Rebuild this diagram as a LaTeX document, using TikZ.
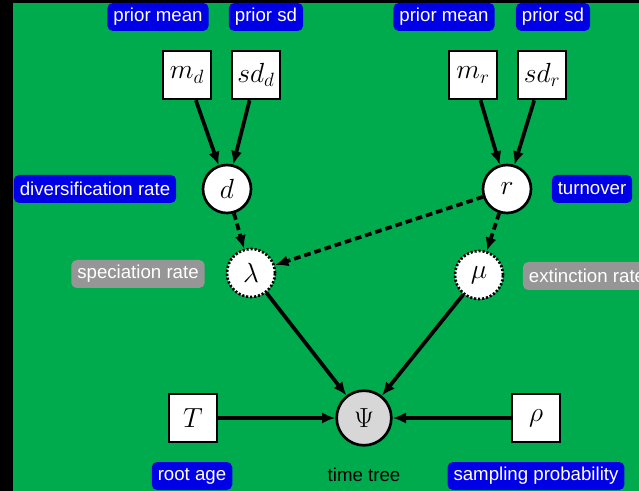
\documentclass[tikz,border=0pt]{standalone}
\usepackage[no-math]{fontspec}
\newfontfamily\labelfont{Liberation Sans}
\usetikzlibrary{arrows.meta}
\definecolor{bggreen}{RGB}{0,171,78}
\definecolor{labblue}{RGB}{0,0,230}
\definecolor{labgray}{RGB}{150,150,150}
\definecolor{psigray}{RGB}{215,215,215}

\begin{document}
\begin{tikzpicture}[x=0.75pt,y=-0.75pt,>={Latex[length=10pt,width=8.5pt]},
  const/.style={draw,line width=2pt,fill=white,minimum size=36pt,inner sep=0pt,font=\fontsize{21}{24}\selectfont},
  stoch/.style={const,circle},
  determ/.style={stoch,dash pattern=on 1.6pt off 1.4pt},
  lab/.style={rounded corners=4pt,fill=labblue,text=white,inner xsep=4.5pt,minimum height=21pt,font=\labelfont\fontsize{14}{16}\selectfont},
  glab/.style={lab,fill=labgray},
  arr/.style={->,line width=2.8pt},
  darr/.style={arr,dash pattern=on 5pt off 3pt}]
\clip (0,0) rectangle (639,491);
\fill[black] (0,0) rectangle (639,491);
\fill[bggreen] (13,3) rectangle (639,491);
% priors
\foreach \n/\x/\t in {pmd/158/prior mean,psd/266/prior sd,pmr/444/prior mean,psr/553/prior sd}{
  \node[lab] (\n) at (\x,17) {\t};
}
\node[const] (md) at (187,75) {$m_d$};
\node[const] (sdd) at (256,75) {$sd_d$};
\node[const] (mr) at (473,75) {$m_r$};
\node[const] (sdr) at (542,75) {$sd_r$};
% rates
\node[stoch] (d) at (227,189) {$d$};
\node[stoch] (r) at (507,189) {$r$};
\node[lab] (dlab) at (95,189) {diversification rate};
\node[lab] (rlab) at (592,189) {turnover};
\node[determ] (lambda) at (251,273) {$\lambda$};
\node[determ] (mu) at (479,275) {$\mu$};
\node[glab] (lamlab) at (138,274) {speciation rate};
\node[glab] (mulab) at (587,276) {extinction rate};
% tree
\node[stoch,fill=psigray,minimum size=41pt] (psi) at (364,418) {$\Psi$};
\node[const] (T) at (193,418) {$T$};
\node[const] (rho) at (536,418) {$\rho$};
\node[lab] (Tlab) at (192,476) {root age};
\node[font=\labelfont\fontsize{14}{16}\selectfont] (psilab) at (364,475) {time tree};
\node[lab] (rholab) at (536,476) {sampling probability};
% edges
\draw[arr] (md) -- (d);
\draw[arr] (sdd) -- (d);
\draw[arr] (mr) -- (r);
\draw[arr] (sdr) -- (r);
\draw[darr] (d) -- (lambda);
\draw[darr] (r) -- (lambda);
\draw[darr] (r) -- (mu);
\draw[arr] (lambda) -- (psi);
\draw[arr] (mu) -- (psi);
\draw[arr] (T) -- (psi);
\draw[arr] (rho) -- (psi);
\end{tikzpicture}
\end{document}
